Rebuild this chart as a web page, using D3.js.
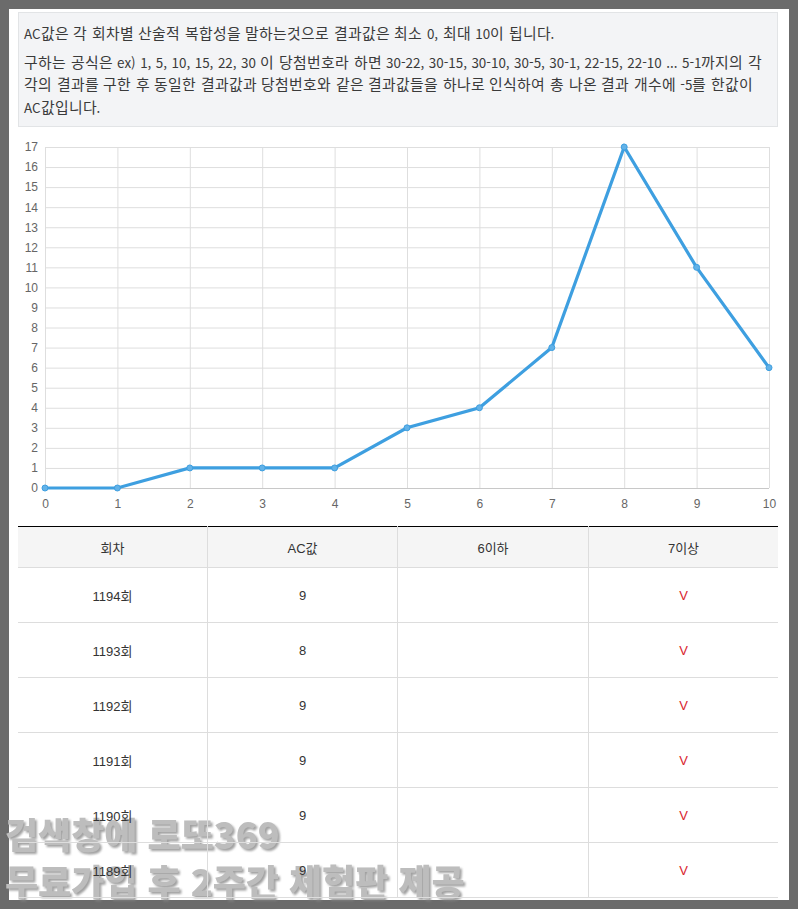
<!DOCTYPE html>
<html lang="ko">
<head>
  <meta charset="UTF-8">
  <title>AC값</title>
  <script src="https://d3js.org/d3.v7.min.js"></script>
  <style>
    @font-face { font-family: "KrWide"; src: local("Noto Sans CJK KR"); unicode-range: U+AC00-D7A3; size-adjust: 111%; }
    html, body { margin: 0; padding: 0; background: #6b6b6b; }
    body { width: 798px; height: 909px; overflow: hidden; position: relative;
      font-family: "Noto Sans CJK KR", "Noto Sans", sans-serif; color: #333; }
    #page { position: absolute; left: 9px; top: 9px; width: 780px; height: 891px; background: #fff; overflow: hidden; }
    #note { position: absolute; left: 9px; top: 3px; width: 758px; height: 113px; background: #f3f4f6;
      border: 1px solid #e2e4e6; font-family: "KrWide", "Noto Sans CJK KR", sans-serif; font-size: 13.4px;
      word-spacing: .8px; color: #3a3a3a; }
    #note div { position: absolute; left: 5px; white-space: nowrap; line-height: 22px; }
    #chart { position: absolute; left: 0; top: 0; }
    #chart text { font-family: "Liberation Sans", Arial, sans-serif; font-size: 12px; fill: #666; }
    #tblWrap { position: absolute; left: 9px; top: 9px; width: 780px; height: 891px; overflow: hidden; }
    table { position: absolute; left: 9px; top: 517px; width: 760px; border-collapse: collapse; table-layout: fixed;
      font-family: "Liberation Sans", "Noto Sans CJK KR", sans-serif; font-size: 13px; color: #333; border-top: 1px solid #000; }
    th { height: 40px; padding: 0; font-weight: 400; background: #f5f5f5; border-bottom: 1px solid #ddd; border-left: 1px solid #ddd; }
    td { height: 54px; padding: 0; text-align: center; border-bottom: 1px solid #ddd; border-left: 1px solid #ddd; }
    th:first-child, td:first-child { border-left: none; }
    th:nth-child(1) { width: 189px; }
    th:nth-child(2) { width: 189px; }
    th:nth-child(3) { width: 190px; }
    td.mark { color: #d9232e; }
    #wm { position: absolute; left: 0; top: 0; pointer-events: none; }
    #wm text { font-family: "Noto Sans CJK KR", sans-serif; font-weight: 900; font-size: 36px; fill: #bdbdbd;
      filter: drop-shadow(2px 2px 1px rgba(130,130,130,.75)); }
  </style>
</head>
<body>
  <div id="page">
    <div id="note"></div>
    <svg id="chart" width="780" height="516"></svg>
  </div>
  <svg id="wm" width="798" height="909"></svg>
  <div id="tblWrap">
    <table id="tbl"><thead><tr></tr></thead><tbody></tbody></table>
  </div>
  <script>
    var noteLines = [
      "AC값은 각 회차별 산술적 복합성을 말하는것으로 결과값은 최소 0, 최대 10이 됩니다.",
      "구하는 공식은 ex) 1, 5, 10, 15, 22, 30 이 당첨번호라 하면 30-22, 30-15, 30-10, 30-5, 30-1, 22-15, 22-10 ... 5-1까지의 각",
      "각의 결과를 구한 후 동일한 결과값과 당첨번호와 같은 결과값들을 하나로 인식하여 총 나온 결과 개수에 -5를 한값이",
      "AC값입니다."
    ];
    var noteTops = [9, 38, 60, 83];

    var acValues = [0, 1, 2, 3, 4, 5, 6, 7, 8, 9, 10];
    var counts = [0, 0, 1, 1, 1, 3, 4, 7, 17, 11, 6];

    var headers = ["회차", "AC값", "6이하", "7이상"];
    var rounds = ["1194회", "1193회", "1192회", "1191회", "1190회", "1189회"];
    var roundAc = [9, 8, 9, 9, 9, 9];

    var watermark = ["검색창에 로또369", "무료가입 후 2주간 체험판 제공"];

    // notice box
    d3.select("#note").selectAll("div")
      .data(noteLines)
      .enter().append("div")
      .style("top", function(d, i) { return noteTops[i] + "px"; })
      .text(function(d) { return d; });

    // line chart, page is offset 9px from the window
    var x = d3.scaleLinear().domain([0, 10]).range([36, 760]);
    var y = d3.scaleLinear().domain([0, 17]).range([479, 138]);
    var svg = d3.select("#chart");

    var xAxis = svg.append("g")
      .attr("transform", "translate(0,479)")
      .call(d3.axisBottom(x).tickValues(acValues).tickFormat(d3.format("d")).tickSize(-341).tickPadding(11));
    var yAxis = svg.append("g")
      .attr("transform", "translate(36,0)")
      .call(d3.axisLeft(y).ticks(17).tickFormat(d3.format("d")).tickSize(-724).tickPadding(7));

    [xAxis, yAxis].forEach(function(g) {
      g.select(".domain").remove();
      g.selectAll("line").attr("stroke", "#dedede");
    });
    yAxis.selectAll(".tick").filter(function(d) { return d === 0; }).select("line").attr("stroke", "#c8c8c8");

    var line = d3.line()
      .x(function(d, i) { return x(acValues[i]); })
      .y(function(d) { return y(d); });

    svg.append("path")
      .datum(counts)
      .attr("fill", "none")
      .attr("stroke", "#3e9fe0")
      .attr("stroke-width", 3.2)
      .attr("d", line);

    svg.selectAll(".pt")
      .data(counts)
      .enter().append("circle")
      .attr("class", "pt")
      .attr("cx", function(d, i) { return x(acValues[i]); })
      .attr("cy", function(d) { return y(d); })
      .attr("r", 3)
      .attr("fill", "#62b2e8")
      .attr("stroke", "#3e9fe0")
      .attr("stroke-width", 1);

    // table
    d3.select("#tbl thead tr").selectAll("th")
      .data(headers)
      .enter().append("th")
      .text(function(d) { return d; });

    var rows = d3.select("#tbl tbody").selectAll("tr")
      .data(rounds)
      .enter().append("tr");

    rows.append("td").text(function(d) { return d; });
    rows.append("td").text(function(d, i) { return roundAc[i]; });
    rows.append("td").text(function(d, i) { return roundAc[i] <= 6 ? "V" : ""; });
    rows.append("td").attr("class", "mark").text(function(d, i) { return roundAc[i] >= 7 ? "V" : ""; });

    // watermark sits under the table text, same as the reference
    d3.select("#wm").selectAll("text")
      .data(watermark)
      .enter().append("text")
      .attr("x", 5)
      .attr("y", function(d, i) { return 849 + i * 47; })
      .text(function(d) { return d; });
  </script>
</body>
</html>
